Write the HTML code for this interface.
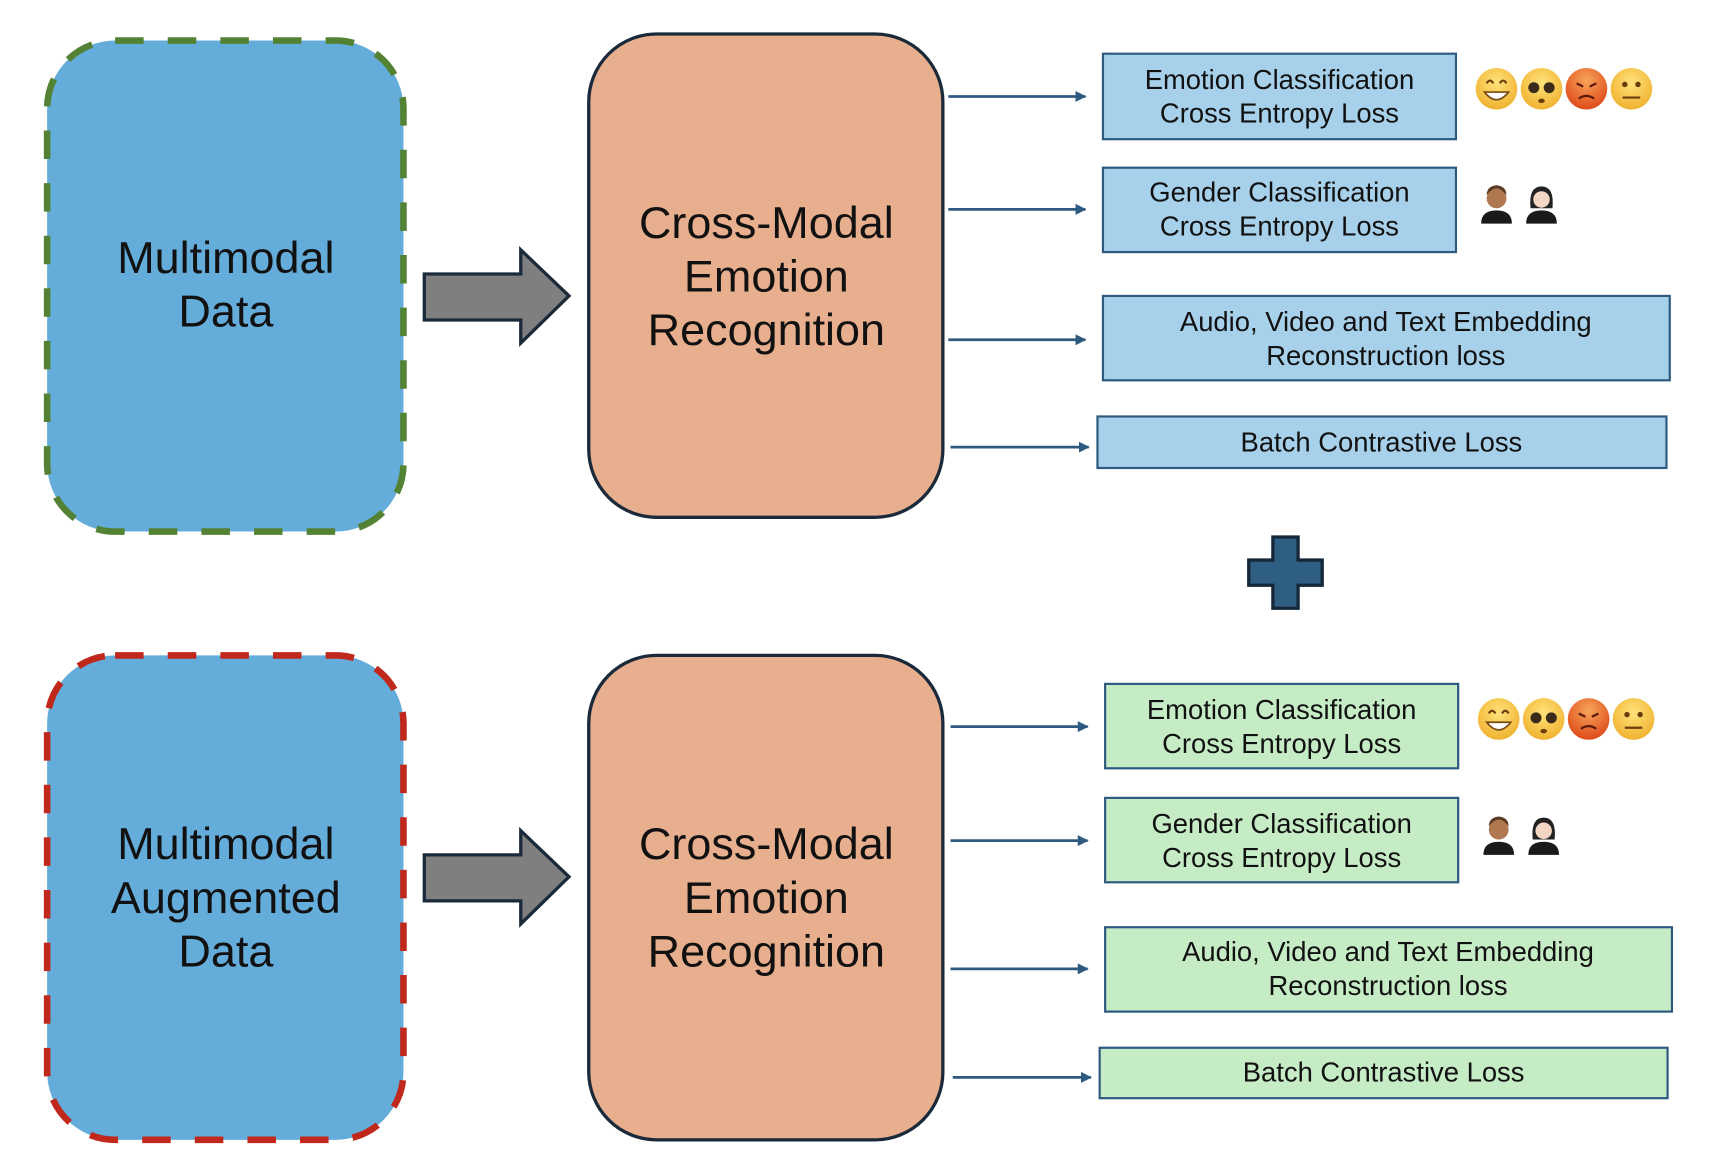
<!DOCTYPE html>
<html><head><meta charset="utf-8"><style>
html,body{margin:0;padding:0;background:#fff;width:1718px;height:1176px;overflow:hidden}
svg{display:block}
text{font-family:"Liberation Sans",sans-serif}
.big{font-size:41px;fill:#111}
.lb{font-size:25px;fill:#111}
</style></head><body>
<svg width="1718" height="1176" viewBox="0 0 1567 1073" preserveAspectRatio="none" xmlns="http://www.w3.org/2000/svg">
<defs>
<marker id="ah" markerWidth="10" markerHeight="10" refX="9" refY="5" orient="auto" markerUnits="userSpaceOnUse"><path d="M0,0 L10,5 L0,10 Z" fill="#2F5A7F"/></marker>
<radialGradient id="fy" cx="50%" cy="35%" r="65%"><stop offset="0" stop-color="#FFE27A"/><stop offset="1" stop-color="#F0B230"/></radialGradient>
<radialGradient id="fr" cx="50%" cy="30%" r="65%"><stop offset="0" stop-color="#F7A45A"/><stop offset="1" stop-color="#E0501E"/></radialGradient>
</defs>

<rect x="43" y="37" width="325" height="448" rx="62" fill="#64ADDB" stroke="#548235" stroke-width="6" stroke-dasharray="26,22"/>
<text class="big" x="206" y="249" text-anchor="middle">Multimodal</text>
<text class="big" x="206" y="298" text-anchor="middle">Data</text>

<rect x="43" y="598" width="325" height="442" rx="62" fill="#64ADDB" stroke="#C0281C" stroke-width="6" stroke-dasharray="26,22"/>
<text class="big" x="206" y="784" text-anchor="middle">Multimodal</text>
<text class="big" x="206" y="833" text-anchor="middle">Augmented</text>
<text class="big" x="206" y="882" text-anchor="middle">Data</text>

<path d="M387,250 H475 V228 L519,270 L475,313 V292 H387 Z" fill="#7F7F7F" stroke="#1B2A3A" stroke-width="3"/>
<path d="M387,780 H475 V758 L519,800 L475,843 V822 H387 Z" fill="#7F7F7F" stroke="#1B2A3A" stroke-width="3"/>

<rect x="537" y="31" width="323" height="441" rx="62" fill="#E8AF8E" stroke="#1B2A3A" stroke-width="3"/>
<text class="big" x="699" y="217" text-anchor="middle">Cross-Modal</text>
<text class="big" x="699" y="266" text-anchor="middle">Emotion</text>
<text class="big" x="699" y="315" text-anchor="middle">Recognition</text>

<rect x="537" y="598" width="323" height="442" rx="62" fill="#E8AF8E" stroke="#1B2A3A" stroke-width="3"/>
<text class="big" x="699" y="784" text-anchor="middle">Cross-Modal</text>
<text class="big" x="699" y="833" text-anchor="middle">Emotion</text>
<text class="big" x="699" y="882" text-anchor="middle">Recognition</text>

<g stroke="#2F5A7F" stroke-width="2.5" marker-end="url(#ah)">
<line x1="865" y1="88" x2="990" y2="88"/>
<line x1="865" y1="191" x2="990" y2="191"/>
<line x1="865" y1="310" x2="990" y2="310"/>
<line x1="867" y1="408" x2="993" y2="408"/>
<line x1="867" y1="663" x2="992" y2="663"/>
<line x1="867" y1="767" x2="992" y2="767"/>
<line x1="867" y1="884" x2="992" y2="884"/>
<line x1="869" y1="983" x2="995" y2="983"/>
</g>

<g fill="#A7D1EA" stroke="#2F5A7F" stroke-width="2">
<rect x="1006" y="49" width="322" height="78"/>
<rect x="1006" y="153" width="322" height="77"/>
<rect x="1006" y="270" width="517" height="77"/>
<rect x="1001" y="380" width="519" height="47"/>
</g>
<g fill="#C6ECC6" stroke="#2F5A7F" stroke-width="2">
<rect x="1008" y="624" width="322" height="77"/>
<rect x="1008" y="728" width="322" height="77"/>
<rect x="1008" y="846" width="517" height="77"/>
<rect x="1003" y="956" width="518" height="46"/>
</g>
<g class="lb" text-anchor="middle">
<text x="1167" y="81">Emotion Classification</text>
<text x="1167" y="112">Cross Entropy Loss</text>
<text x="1167" y="184">Gender Classification</text>
<text x="1167" y="215">Cross Entropy Loss</text>
<text x="1264" y="302">Audio, Video and Text Embedding</text>
<text x="1264" y="333">Reconstruction loss</text>
<text x="1260" y="412">Batch Contrastive Loss</text>
<text x="1169" y="656">Emotion Classification</text>
<text x="1169" y="687">Cross Entropy Loss</text>
<text x="1169" y="760">Gender Classification</text>
<text x="1169" y="791">Cross Entropy Loss</text>
<text x="1266" y="877">Audio, Video and Text Embedding</text>
<text x="1266" y="908">Reconstruction loss</text>
<text x="1262" y="987">Batch Contrastive Loss</text>
</g>

<path d="M1161,490 H1184 V511 H1206 V534 H1184 V555 H1161 V534 H1139 V511 H1161 Z" fill="#2E5E82" stroke="#14283a" stroke-width="3"/>

<g id="faces">
<circle cx="1365" cy="81" r="19" fill="url(#fy)"/>
<path d="M1354,84 Q1365,98 1376,84 Z" fill="#fff" stroke="#7a4a10" stroke-width="1.5"/>
<path d="M1356,76 q3,-5 6,0 M1368,76 q3,-5 6,0" fill="none" stroke="#6b3d0c" stroke-width="2"/>
<circle cx="1406" cy="81" r="19" fill="url(#fy)"/>
<circle cx="1399" cy="80" r="5" fill="#3a2a1a"/><circle cx="1413" cy="80" r="5" fill="#3a2a1a"/>
<ellipse cx="1406" cy="92" rx="3" ry="2" fill="#6b3d0c"/>
<circle cx="1447" cy="81" r="19" fill="url(#fr)"/>
<path d="M1440,90 q7,-5 14,0 M1438,76 l6,3 M1456,76 l-6,3" fill="none" stroke="#5a1a0a" stroke-width="2"/>
<circle cx="1488" cy="81" r="19" fill="url(#fy)"/>
<circle cx="1482" cy="77" r="2.5" fill="#6b3d0c"/><circle cx="1494" cy="77" r="2.5" fill="#6b3d0c"/>
<line x1="1480" y1="89" x2="1496" y2="89" stroke="#6b3d0c" stroke-width="2"/>
</g>
<use href="#faces" x="2" y="575"/>

<g id="ppl">
<path d="M1351,204 q0,-12 14,-12 q14,0 14,12 Z" fill="#1a1a1a"/>
<circle cx="1365" cy="181" r="9" fill="#B07850"/>
<path d="M1356,178 q9,-12 18,0 q0,-8 -9,-9 q-9,1 -9,9 Z" fill="#5a3a22"/>
<path d="M1392,204 q0,-12 14,-12 q14,0 14,12 Z" fill="#1a1a1a"/>
<path d="M1396,190 q-2,-20 10,-20 q12,0 10,20 Z" fill="#222"/>
<circle cx="1406" cy="182" r="7.5" fill="#F3D6C4"/>
</g>
<use href="#ppl" x="2" y="576"/>
</svg>
</body></html>
